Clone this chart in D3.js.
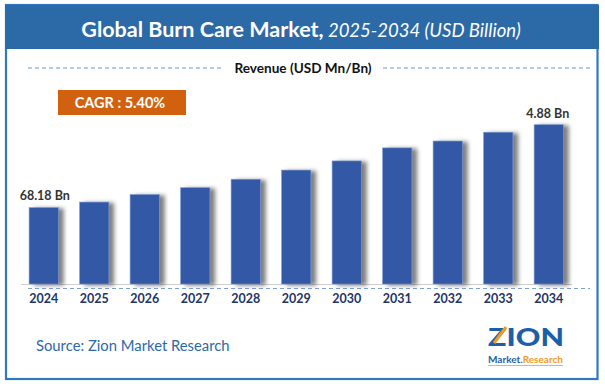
<!DOCTYPE html>
<html><head><meta charset="utf-8">
<script src="https://cdn.jsdelivr.net/npm/d3@7"></script>
<style>html,body{margin:0;padding:0;background:#fff}svg{display:block}</style>
</head><body>
<script>
const years = ["2024","2025","2026","2027","2028","2029","2030","2031","2032","2033","2034"];
const revenue = [2.34,2.51,2.74,2.95,3.21,3.49,3.77,4.17,4.38,4.65,4.88];
const firstLabel = "68.18 Bn";
const lastLabel = "4.88 Bn";
const cagrText = "CAGR : 5.40%";
const titleBold = "Global Burn Care Market,";
const titleItalic = " 2025-2034 (USD Billion)";
const legendText = "Revenue (USD Mn/Bn)";
const sourceText = "Source: Zion Market Research";

const W=605,H=384;
const svg=d3.select("body").append("svg").attr("width",W).attr("height",H);
const font="Lato, 'Open Sans', sans-serif";
const defs=svg.append("defs");
const f=defs.append("filter").attr("id","sh").attr("x","-20%").attr("y","-10%").attr("width","160%").attr("height","120%");
f.append("feDropShadow").attr("dx",5).attr("dy",1).attr("stdDeviation",2.2).attr("flood-color","#555").attr("flood-opacity",0.75);

// frame
svg.append("rect").attr("x",6).attr("y",5).attr("width",591.5).attr("height",374).attr("fill","#fff").attr("stroke","#2f78c0").attr("stroke-width",2.2);
svg.append("rect").attr("x",5).attr("y",5).attr("width",594).attr("height",44).attr("fill","#2c69a7");

const t=svg.append("text").attr("x",301).attr("y",36.5).attr("text-anchor","middle").attr("fill","#fff").attr("font-family",font);
t.append("tspan").attr("font-weight","bold").attr("font-size",21.5).text(titleBold);
t.append("tspan").attr("font-style","italic").attr("font-size",18.5).text(titleItalic);

// legend line
svg.append("line").attr("x1",28).attr("x2",222).attr("y1",68).attr("y2",68).attr("stroke","#6f97d6").attr("stroke-width",1.2).attr("stroke-dasharray","4,3");
svg.append("line").attr("x1",383).attr("x2",590).attr("y1",68).attr("y2",68).attr("stroke","#6f97d6").attr("stroke-width",1.2).attr("stroke-dasharray","4,3");
svg.append("text").attr("x",303).attr("y",72.5).attr("text-anchor","middle").attr("font-family",font).attr("font-weight","bold").attr("font-size",13.6).attr("fill","#111").text(legendText);

// CAGR
svg.append("rect").attr("x",58).attr("y",90).attr("width",128).attr("height",25).attr("fill","#d2610f");
svg.append("text").attr("x",120).attr("y",108).attr("text-anchor","middle").attr("font-family",font).attr("font-weight","bold").attr("font-size",14.5).attr("fill","#fff").text(cagrText);

// scales
const x=d3.scaleBand().domain(years).range([20,572.5]).paddingInner(0.42).paddingOuter(0.18);
const y=d3.scaleLinear().domain([0,5]).range([284,284-163.2]);

// axis line
svg.append("line").attr("x1",21).attr("x2",572).attr("y1",284.5).attr("y2",284.5).attr("stroke","#cfcfcf").attr("stroke-width",1);
svg.append("line").attr("x1",28).attr("x2",590).attr("y1",288.5).attr("y2",288.5).attr("stroke","#7ea0d8").attr("stroke-width",1.2).attr("stroke-dasharray","4,3");

svg.append("g").selectAll("rect").data(years).join("rect")
 .attr("x",d=>x(d)).attr("width",x.bandwidth())
 .attr("y",(d,i)=>y(revenue[i])).attr("height",(d,i)=>y(0)-y(revenue[i]))
 .attr("fill","#3358a6").attr("stroke","#7d9ad0").attr("stroke-width",0.6).attr("filter","url(#sh)");

const xa=d3.axisBottom(x).tickSize(0).tickPadding(0);
const ga=svg.append("g").attr("transform","translate(0,294)").call(xa);
ga.select(".domain").remove();
ga.selectAll("text").attr("font-family",font).attr("font-weight","bold").attr("font-size",12.5).attr("fill","#1f3566").attr("dy","0.71em");

// value labels
svg.append("text").attr("x",x(years[0])+x.bandwidth()/2+1).attr("y",y(revenue[0])-8).attr("text-anchor","middle").attr("font-family",font).attr("font-weight","bold").attr("font-size",12.5).attr("fill","#333").text(firstLabel);
svg.append("text").attr("x",x(years[10])+x.bandwidth()/2-1).attr("y",y(revenue[10])-7).attr("text-anchor","middle").attr("font-family",font).attr("font-weight","bold").attr("font-size",12.5).attr("fill","#333").text(lastLabel);

// source
svg.append("text").attr("x",36).attr("y",351).attr("font-family",font).attr("font-size",14.8).attr("fill","#2c69a7").text(sourceText);

// logo
const lg=svg.append("g");
lg.append("text").attr("x",488).attr("y",346).attr("font-family",font).attr("font-weight","900").attr("font-size",24).attr("fill","#1d5ea8").attr("textLength",76).attr("lengthAdjust","spacingAndGlyphs").text("ZION");
lg.append("line").attr("x1",494).attr("y1",343).attr("x2",506).attr("y2",327).attr("stroke","#f39a1e").attr("stroke-width",3);
const lt=lg.append("text").attr("x",488).attr("y",363).attr("font-family",font).attr("font-weight","bold").attr("font-size",10).attr("textLength",75).attr("lengthAdjust","spacingAndGlyphs");
lt.append("tspan").attr("fill","#1d5ea8").text("Market.");
lt.append("tspan").attr("fill","#f39a1e").text("Research");
lg.append("line").attr("x1",488).attr("x2",563).attr("y1",365.5).attr("y2",365.5).attr("stroke","#9cc0e8").attr("stroke-width",1.2);
</script>
</body></html>
